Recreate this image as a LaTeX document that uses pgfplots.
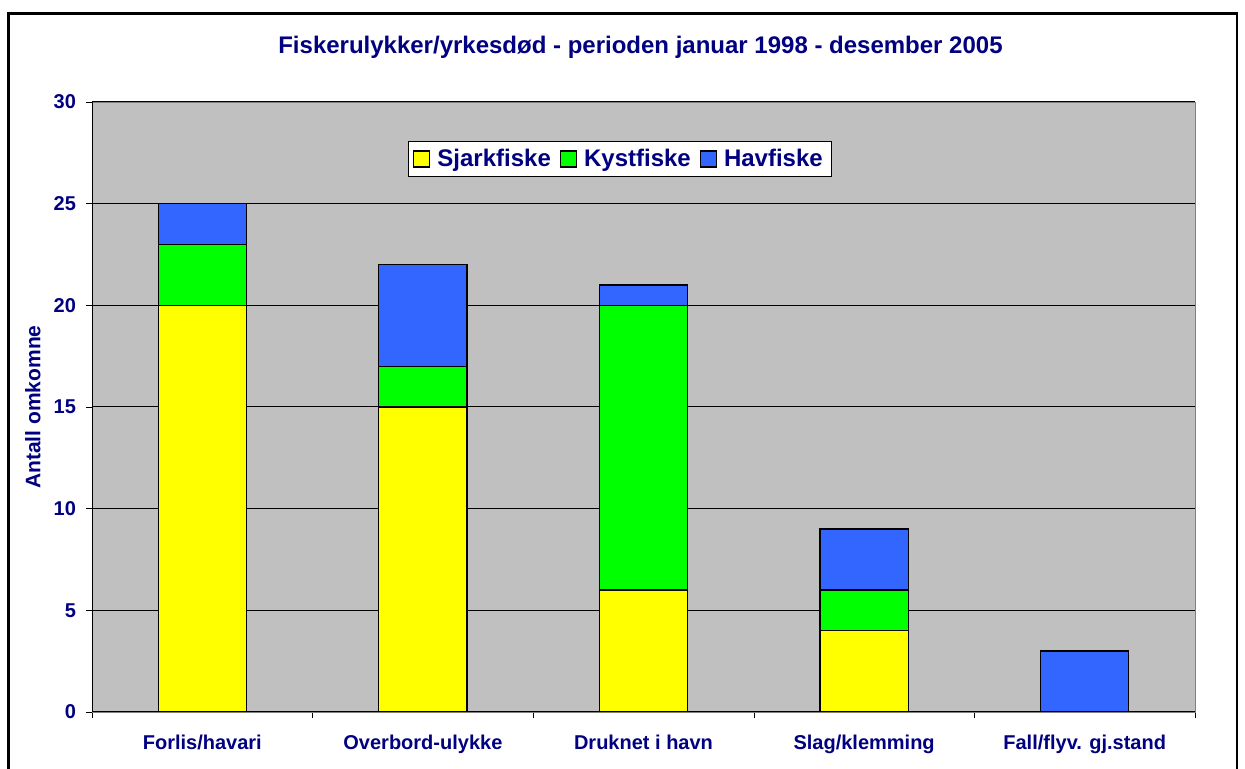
\documentclass[border=0pt]{standalone}
\usepackage{fontspec}
\setmainfont{Liberation Sans}
\usepackage{pgfplots}
\pgfplotsset{compat=1.18}
\definecolor{navy}{HTML}{000080}
\definecolor{silver}{HTML}{C0C0C0}
\definecolor{xlyellow}{HTML}{FFFF00}
\definecolor{xlgreen}{HTML}{00FF00}
\definecolor{xlblue}{HTML}{3366FF}
\begin{document}
\begin{tikzpicture}
\useasboundingbox (0pt,0pt) rectangle (622.5pt,384.5pt);
\fill[white] (0pt,0pt) rectangle (622.5pt,384.5pt);
\draw[line width=1.4pt] (4.25pt,377.75pt) rectangle (618.5pt,-20pt);
\node[font=\bfseries\fontsize{12}{14}\selectfont, text=navy] at (320.25pt,361pt) {Fiskerulykker/yrkesdød - perioden januar 1998 - desember 2005};
\begin{axis}[
  at={(46pt,28.5pt)}, anchor=south west,
  width=551.5pt, height=305pt, scale only axis,
  ymin=0, ymax=30, xmin=-0.5, xmax=4.5,
  ybar stacked, bar width=0.4,
  axis background/.style={fill=silver},
  axis line style={draw=gray},
  ytick={0,5,...,30},
  xtick={0,1,2,3,4},
  xticklabels={Forlis/havari,Overbord-ulykke,Druknet i havn,Slag/klemming,Fall/flyv. gj.stand},
  minor xtick={-0.5,0.5,1.5,2.5,3.5,4.5},
  every major x tick/.style={draw=none},
  every minor x tick/.style={draw=black},
  ytick style={draw=black},
  xtick pos=bottom, ytick pos=left,
  tick align=outside,
  major tick length=3pt, minor tick length=3pt,
  ymajorgrids, major grid style={black, line width=0.5pt},
  /pgf/number format/assume math mode=true,
  tick label style={font=\bfseries\fontsize{10}{12}\selectfont, text=navy},
  xticklabel style={yshift=-5pt},
  yticklabel style={xshift=-1.5pt},
  ylabel={Antall omkomne},
  ylabel style={at={(axis description cs:-0.0535,0.5)}, anchor=center, font=\bfseries\fontsize{10.5}{12}\selectfont, text=navy},
  legend columns=-1,
  legend style={at={(axis description cs:0.4787,0.9066)}, anchor=center, draw=black, fill=white,
    font=\bfseries\fontsize{12}{14}\selectfont, text=navy, inner xsep=2.5pt, inner ysep=1.5pt,
    /tikz/every odd column/.append style={column sep=1.5pt},
    /tikz/every even column/.append style={column sep=2.5pt}},
  legend image code/.code={\draw[#1,draw=black,line width=0.6pt] (0pt,-4pt) rectangle (8pt,4pt);},
  every axis plot/.append style={draw=black, line width=0.6pt},
]
\addplot[fill=xlyellow] coordinates {(0,20) (1,15) (2,6) (3,4) (4,0)};
\addplot[fill=xlgreen] coordinates {(0,3) (1,2) (2,14) (3,2) (4,0)};
\addplot[fill=xlblue] coordinates {(0,2) (1,5) (2,1) (3,3) (4,3)};
\legend{Sjarkfiske,Kystfiske,Havfiske}
\draw[black, line width=0.6pt] (rel axis cs:0,0) -- (rel axis cs:1,0);
\draw[black, line width=0.6pt] (rel axis cs:0,0) -- (rel axis cs:0,1);
\end{axis}
\end{tikzpicture}
\end{document}
